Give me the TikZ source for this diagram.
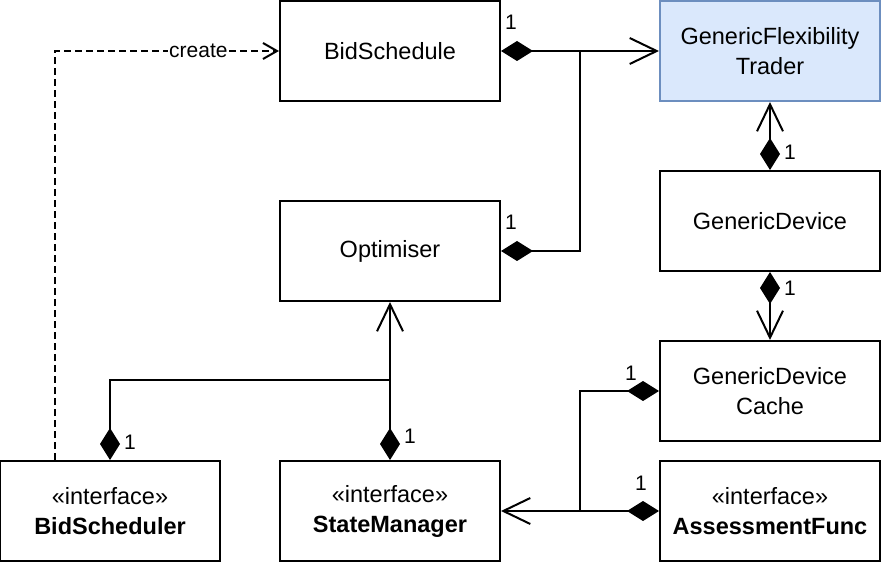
\documentclass[tikz,border=0pt]{standalone}
\usepackage{fontspec}
\setmainfont{Liberation Sans}
\usetikzlibrary{arrows.meta}

\begin{document}
\begin{tikzpicture}[x=1pt,y=-1pt,line width=2pt,font=\fontsize{23.5}{30}\selectfont]
\tikzset{
% Two node styles for classes: plain and highlighted
class node/.style={rectangle,draw,minimum width=220pt,minimum height=100pt,inner sep=0,align=center},
main node/.style={class node,draw={rgb,255:red,108;green,142;blue,191},fill={rgb,255:red,218;green,232;blue,252}}
}
% Connector styles: composition with open arrow, and the dashed create
\tikzstyle mult=[font=\fontsize{21}{25}\selectfont]
\tikzstyle composed=[{Diamond[length=32pt,width=20pt]}-{Straight Barb[length=27pt,width=26pt]}]
\tikzstyle part=[{Diamond[length=32pt,width=20pt]}-]
\tikzstyle creates=[dash pattern=on 7pt off 4pt,-{Straight Barb[length=14pt,width=16pt]}]
\useasboundingbox (0,0) rectangle (884,564);
% The classes
\node(sched)[class node] at (390,51){BidSchedule};
\node(trader)[main node] at (770,51){GenericFlexibility\\Trader};
\node(opt)[class node] at (390,251){Optimiser};
\node(dev)[class node] at (770,221){GenericDevice};
\node(cache)[class node] at (770,391){GenericDevice\\Cache};
\node(bidder)[class node] at (110,511){«interface»\\\textbf{BidScheduler}};
\node(state)[class node] at (390,511){«interface»\\\textbf{StateManager}};
\node(assess)[class node] at (770,511){«interface»\\\textbf{AssessmentFunc}};
% Junctions
\coordinate(j1) at (580,51);
\coordinate(j2) at (580,511);
\coordinate(j3) at (390,380);
\coordinate(c) at ([xshift=-55pt]bidder.north);
% The connectors
\draw[composed] (sched.east) -- (trader.west)
node[mult,at start,xshift=10pt,yshift=29pt]{1};
\draw[part] (opt.east) -| (j1)
node[mult,at start,xshift=10pt,yshift=29pt]{1};
\draw[composed] (dev.north) -- (trader.south)
node[mult,at start,xshift=20pt,yshift=18pt]{1};
\draw[composed] (dev.south) -- (cache.north)
node[mult,at start,xshift=20pt,yshift=-16pt]{1};
\draw[part] (cache.west) -| (j2)
node[mult,at start,xshift=-28pt,yshift=18pt]{1};
\draw[composed] (assess.west) -- (state.east)
node[mult,at start,xshift=-18pt,yshift=28pt]{1};
\draw[composed] (bidder.north) node[mult,xshift=20pt,yshift=18pt]{1} |- (j3) -- (opt.south);
\draw[part] (state.north) -- (j3)
node[mult,at start,xshift=20pt,yshift=24pt]{1};
\draw[creates] (c) |- (sched.west)
node[mult,pos=0.82,fill=white,inner sep=1pt]{create};
\end{tikzpicture}
\end{document}
